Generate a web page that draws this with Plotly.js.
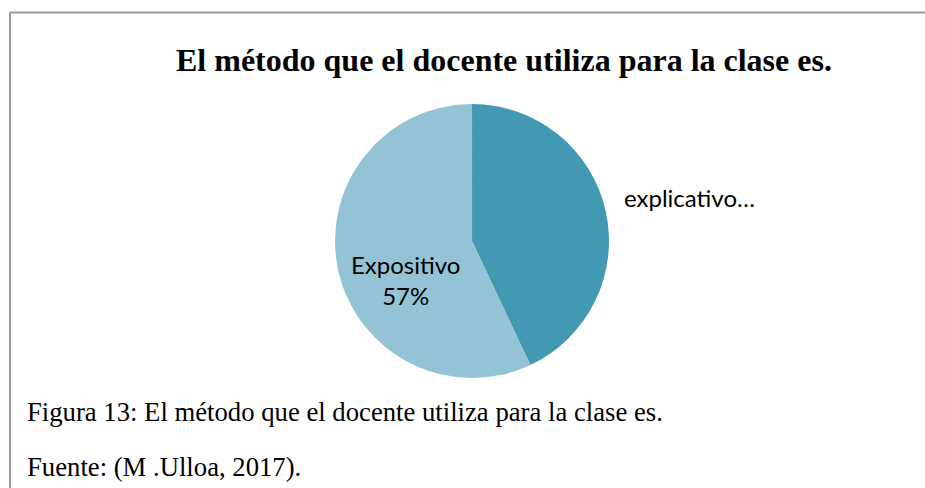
<!DOCTYPE html>
<html>
<head>
<meta charset="utf-8">
<script src="https://cdn.plot.ly/plotly-3.0.1.min.js"></script>
<style>
html,body{margin:0;padding:0;background:#fff;}
#chart{width:925px;height:488px;}
</style>
</head>
<body>
<div id="chart"></div>
<script>
const labels = ["explicativo", "Expositivo"];
const values = [43, 57];
const sliceText = ["explicativo…", "Expositivo<br>57%"];
const colors = ["#4399B1", "#93C3D5"];
const titleText = "El método que el docente utiliza para la clase es.";
const caption1 = "Figura 13: El método que el docente utiliza para la clase es.";
const caption2 = "Fuente: (M .Ulloa, 2017).";

const trace = {
  type: "pie",
  labels: labels,
  values: values,
  text: sliceText,
  textinfo: "none",
  sort: false,
  direction: "clockwise",
  rotation: 0,
  marker: {colors: colors, line: {width: 0}},
  domain: {x: [0.3103, 0.7103], y: [0.2254, 0.7868]},
  showlegend: false,
  hoverinfo: "label+percent"
};

const layout = {
  width: 925, height: 488,
  margin: {l: 0, r: 0, t: 0, b: 0},
  paper_bgcolor: "#ffffff",
  showlegend: false,
  shapes: [
    {type: "line", xref: "paper", yref: "paper", x0: 10/925, x1: 1.01, y0: 1-12.5/488, y1: 1-12.5/488, line: {color: "#999999", width: 2}},
    {type: "line", xref: "paper", yref: "paper", x0: 10/925, x1: 10/925, y0: -0.01, y1: 1-12.5/488, line: {color: "#999999", width: 2}}
  ],
  annotations: [
    {text: "<b>" + titleText + "</b>", xref: "paper", yref: "paper", x: 504/925, y: 1-60/488, xanchor: "center", yanchor: "middle", showarrow: false, font: {family: "Liberation Serif, Times New Roman, serif", size: 32, color: "#000"}},
    {text: sliceText[0], xref: "paper", yref: "paper", x: 622/925, y: 1-197/488, xanchor: "left", yanchor: "middle", showarrow: false, font: {family: "Lato, Liberation Sans, sans-serif", size: 24, color: "#000"}},
    {text: sliceText[1], xref: "paper", yref: "paper", x: 405/925, y: 1-280/488, xanchor: "center", yanchor: "middle", showarrow: false, align: "center", font: {family: "Lato, Liberation Sans, sans-serif", size: 24, color: "#000"}},
    {text: caption1, xref: "paper", yref: "paper", x: 25/925, y: 1-412/488, xanchor: "left", yanchor: "middle", showarrow: false, font: {family: "Liberation Serif, Times New Roman, serif", size: 26.7, color: "#000"}},
    {text: caption2, xref: "paper", yref: "paper", x: 25/925, y: 1-467/488, xanchor: "left", yanchor: "middle", showarrow: false, font: {family: "Liberation Serif, Times New Roman, serif", size: 26.7, color: "#000"}}
  ]
};

Plotly.newPlot("chart", [trace], layout, {displayModeBar: false, staticPlot: true});
</script>
</body>
</html>
